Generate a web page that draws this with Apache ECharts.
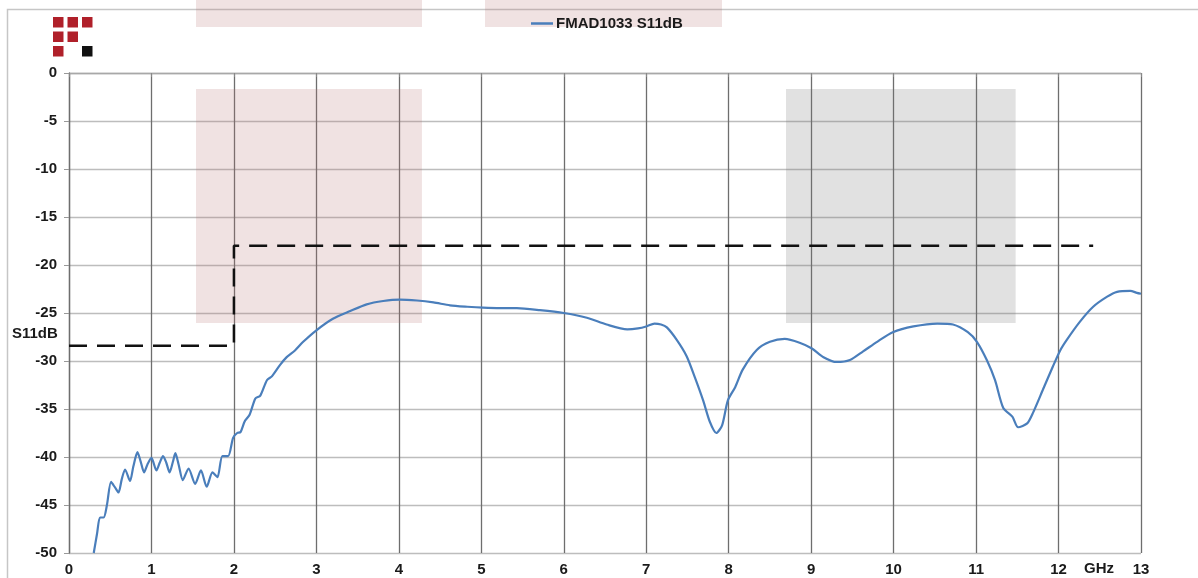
<!DOCTYPE html>
<html>
<head>
<meta charset="utf-8">
<script src="https://cdn.jsdelivr.net/npm/echarts@6/dist/echarts.min.js"></script>
<style>
html,body{margin:0;padding:0;background:#fff;}
#c{width:1198px;height:578px;}
</style>
</head>
<body>
<div id="c"></div>
<script>
// ---- data ----
const seriesName = 'FMAD1033 S11dB';
const freqGHz = [0.30,0.34,0.376,0.42,0.46,0.51,0.56,0.60,0.64,0.68,0.74,0.78,0.83,0.87,0.91,0.95,1.00,1.06,1.10,1.14,1.18,1.22,1.26,1.29,1.33,1.38,1.45,1.53,1.60,1.67,1.74,1.80,1.86,1.93,1.99,2.04,2.08,2.13,2.19,2.26,2.32,2.40,2.46,2.56,2.64,2.74,2.84,3.0,3.2,3.41,3.61,3.81,4.01,4.22,4.42,4.62,4.83,5.02,5.23,5.43,5.71,6.0,6.28,6.52,6.77,6.90,7.0,7.1,7.18,7.25,7.37,7.49,7.59,7.69,7.77,7.85,7.92,7.99,8.08,8.17,8.34,8.5,8.68,8.86,9.01,9.15,9.31,9.47,9.63,9.8,9.99,10.24,10.53,10.72,10.9,11.01,11.13,11.23,11.33,11.44,11.51,11.62,11.69,11.81,11.93,12.02,12.1,12.26,12.42,12.59,12.71,12.87,12.95,13.0];
const s11dB = [-50,-48,-46.3,-46.3,-45,-42.6,-43.2,-43.7,-42.3,-41.3,-42.5,-41,-39.5,-40.5,-41.6,-40.8,-40.1,-41.4,-40.6,-39.9,-40.6,-41.6,-40.5,-39.6,-40.8,-42.4,-41.2,-42.8,-41.4,-43.1,-41.6,-42.1,-39.9,-39.9,-38.0,-37.5,-37.4,-36.3,-35.6,-33.9,-33.6,-32.0,-31.6,-30.4,-29.6,-28.9,-28.0,-26.8,-25.6,-24.8,-24.1,-23.75,-23.6,-23.7,-23.9,-24.2,-24.35,-24.45,-24.5,-24.5,-24.7,-25.0,-25.5,-26.2,-26.7,-26.6,-26.4,-26.1,-26.2,-26.5,-27.8,-29.5,-31.7,-34.1,-36.3,-37.5,-36.7,-34.1,-32.7,-30.9,-28.85,-28.0,-27.7,-28.1,-28.7,-29.6,-30.1,-29.9,-29.0,-28.0,-27.0,-26.4,-26.1,-26.2,-27.0,-28.0,-29.9,-32.0,-34.9,-35.8,-36.9,-36.5,-35.4,-33.0,-30.6,-28.9,-27.8,-25.9,-24.35,-23.3,-22.8,-22.7,-22.9,-23.0];
// spec mask (dashed)
const maskFreq = [0, 2, 2, 12.42];
const maskDB = [-28.4, -28.4, -18, -18];
// highlight bands [x0, x1, y0, y1]
const pinkBand = [1.54, 4.28, -1.67, -26.04];
const grayBand = [8.695, 11.48, -1.67, -26.04];
const xTicks = {min: 0, max: 13, interval: 1};
const yTicks = {min: -50, max: 0, interval: 5};

const FONT = '"Liberation Sans", Arial, sans-serif';
const chart = echarts.init(document.getElementById('c'));

const logoCells = [[0,0,'#b0202a'],[1,0,'#b0202a'],[2,0,'#b0202a'],[0,1,'#b0202a'],[1,1,'#b0202a'],[0,2,'#b0202a'],[2,2,'#111']];
const graphics = [
  {type:'rect', left:5, top:7, z:0, shape:{width:1260, height:640}, style:{fill:null, stroke:'#c6c6c6', lineWidth:1.5}},
  {type:'rect', left:196, top:0, z:1, shape:{width:226, height:27}, style:{fill:'rgba(180,110,110,0.2)'}},
  {type:'rect', left:485, top:0, z:1, shape:{width:237, height:27}, style:{fill:'rgba(180,110,110,0.2)'}},
  {type:'text', left:12, top:326, style:{text:'S11dB', font:'bold 15px ' + FONT, fill:'#1a1a1a'}},
  {type:'text', left:1084, top:561, style:{text:'GHz', font:'bold 15px ' + FONT, fill:'#1a1a1a'}}
];
logoCells.forEach(c => graphics.push({type:'rect', left:53 + c[0]*14.5, top:17 + c[1]*14.5, shape:{width:10.5, height:10.5}, style:{fill:c[2]}}));

chart.setOption({
  animation:false,
  backgroundColor:'#fff',
  grid:{left:69, right:57, top:73, bottom:25},
  legend:{
    left:531, top:16, padding:0, itemWidth:22, itemHeight:2.5, itemGap:4,
    data:[{name:seriesName, icon:'rect'}],
    textStyle:{fontFamily:FONT, fontWeight:'bold', fontSize:15, color:'#1a1a1a', padding:[0,0,0,-2]}
  },
  xAxis:{
    type:'value', min:xTicks.min, max:xTicks.max, interval:xTicks.interval,
    axisLine:{show:true, lineStyle:{color:'#a8a8a8', width:1.3}},
    axisTick:{show:true, length:4, lineStyle:{color:'#888'}},
    axisLabel:{margin:9, fontFamily:FONT, fontWeight:'bold', fontSize:15, color:'#1a1a1a',
      formatter: v => (v === 12.5 ? '' : String(v))},
    splitLine:{show:true, lineStyle:{color:'#6e6e6e', width:1.3}}
  },
  yAxis:{
    type:'value', min:yTicks.min, max:yTicks.max, interval:yTicks.interval,
    axisLine:{show:true, lineStyle:{color:'#6e6e6e', width:1.3}},
    axisTick:{show:true, length:5, lineStyle:{color:'#999'}},
    axisLabel:{margin:12, fontFamily:FONT, fontWeight:'bold', fontSize:15, color:'#1a1a1a'},
    splitLine:{show:true, lineStyle:{color:'#bdbdbd', width:1.3}}
  },
  graphic: graphics,
  series:[
    {
      name:'bands', type:'line', data:[], silent:true, z:0,
      markArea:{silent:true, z:0, data:[
        [{coord:[pinkBand[0], pinkBand[2]], itemStyle:{color:'rgba(180,110,110,0.2)'}}, {coord:[pinkBand[1], pinkBand[3]]}],
        [{coord:[grayBand[0], grayBand[2]], itemStyle:{color:'rgba(120,120,120,0.22)'}}, {coord:[grayBand[1], grayBand[3]]}]
      ]}
    },
    {
      name:'mask', type:'line', symbol:'none', z:3,
      data: maskFreq.map((f,i) => [f, maskDB[i]]),
      lineStyle:{color:'#111', width:2.5, type:[18,10]}
    },
    {
      name:seriesName, type:'line', symbol:'none', smooth:0.25, z:4, clip:true,
      data: freqGHz.map((f,i) => [f, s11dB[i]]),
      itemStyle:{color:'#4a7ebb'},
      lineStyle:{color:'#4a7ebb', width:2.2}
    }
  ]
});
</script>
</body>
</html>
